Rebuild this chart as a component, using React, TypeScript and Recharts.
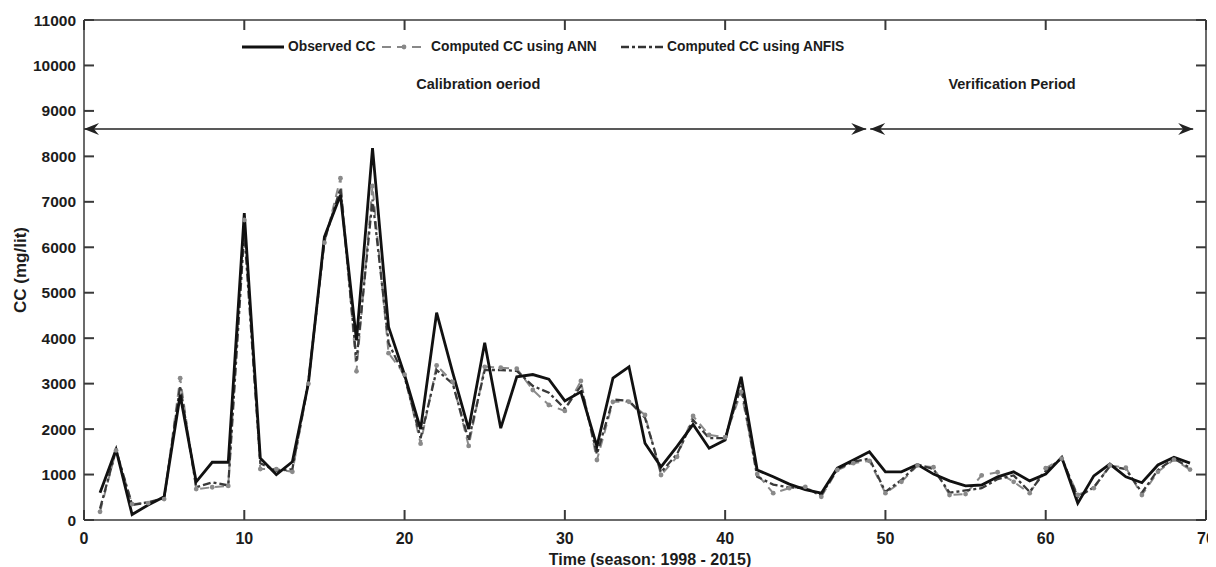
import React from 'react';
import { LineChart, Line, XAxis, YAxis, ReferenceLine, Legend } from 'recharts';

const seasons: number[] = Array.from({ length: 69 }, (_, i) => i + 1);

const observedCC: number[] = [
  600, 1550, 120, 330, 510, 2750, 840, 1270, 1270, 6750,
  1360, 1000, 1280, 3010, 6230, 7150, 3950, 8180, 4250, 3190,
  2000, 4560, 3250, 2000, 3900, 2020, 3150, 3200, 3100, 2620,
  2820, 1620, 3120, 3370, 1690, 1170, 1620, 2100, 1580, 1760,
  3150, 1100, 950, 790, 670, 590, 1140, 1320, 1500, 1060,
  1060, 1220, 1010, 860, 750, 770, 950, 1060, 860, 1010,
  1380, 370, 970, 1230, 950, 820, 1210, 1380, 1250,
];

const annCC: number[] = [
  180, 1530, 350, 370, 460, 3120, 680, 720, 750, 6600,
  1120, 1120, 1060, 3000, 6100, 7520, 3270, 7350, 3670, 3200,
  1680, 3400, 3040, 1630, 3370, 3350, 3330, 2860, 2530, 2400,
  3060, 1320, 2600, 2600, 2310, 990, 1390, 2290, 1870, 1820,
  2820, 1010, 590, 700, 730, 510, 1100, 1250, 1300, 590,
  840, 1200, 1160, 550, 570, 980, 1050, 840, 590, 1140,
  1350, 550, 700, 1200, 1150, 550, 1060, 1330, 1110,
];

const anfisCC: number[] = [
  250, 1540, 330, 390, 480, 2950, 720, 830, 760, 6350,
  1250, 1080, 1120, 3050, 6150, 7300, 3500, 7050, 3900, 3150,
  1800, 3300, 3000, 1750, 3300, 3300, 3280, 2950, 2800, 2450,
  2950, 1450, 2650, 2620, 2250, 1050, 1450, 2200, 1800, 1800,
  2950, 950, 780, 720, 700, 550, 1120, 1280, 1350, 620,
  880, 1220, 1120, 600, 650, 700, 900, 980, 620, 1080,
  1360, 500, 720, 1180, 1120, 600, 1100, 1350, 1150,
];

const xTicks: number[] = [0, 10, 20, 30, 40, 50, 60, 70];
const yTicks: number[] = [0, 1000, 2000, 3000, 4000, 5000, 6000, 7000, 8000, 9000, 10000, 11000];
const xDomain: [number, number] = [0, 70];
const yDomain: [number, number] = [0, 11000];

const periodArrowY = 8600;
const calibrationRange: [number, number] = [0, 48.8];
const calibrationLabelX = 24.6;
const verificationRange: [number, number] = [49.05, 69.2];
const verificationLabelX = 57.9;

const data = seasons.map((s, i) => ({
  season: s,
  observed: observedCC[i],
  ann: annCC[i],
  anfis: anfisCC[i],
}));

const FONT = "'Liberation Sans', Arial, sans-serif";
const TXT = '#1c1c1c';
const AX = '#3a3a3a';
const TL = 10;
const TICK_STROKE = '#3a3a3a';
const TICK_W = 2;

const BottomTick = (p: any) => (
  <text x={p.x} y={p.y + 24} textAnchor="middle" fontFamily={FONT} fontWeight="bold" fontSize={16} fill={TXT}>
    {p.payload.value}
  </text>
);
const LeftTick = (p: any) => (
  <text x={p.x - 8} y={p.y + 5.5} textAnchor="end" fontFamily={FONT} fontWeight="bold" fontSize={15.5} fill={TXT}>
    {p.payload.value}
  </text>
);

// inward tick mark, drawn from the scaled anchor point
const tickShape = (dx: number, dy: number) => (p: any) => (
  <line x1={p.x1} y1={p.y1} x2={p.x1 + dx} y2={p.y1 + dy} stroke={TICK_STROKE} strokeWidth={TICK_W} />
);

const arrowShape = (label: string, range: [number, number], labelX: number) => (p: any) => {
  const { x1, y1, x2, y2 } = p;
  const lx = x1 + ((labelX - range[0]) / (range[1] - range[0])) * (x2 - x1);
  return (
    <g>
      <line x1={x1} y1={y1} x2={x2} y2={y2} stroke="#222" strokeWidth={1.5} />
      <polygon points={`${x1},${y1} ${x1 + 15},${y1 - 6} ${x1 + 10},${y1} ${x1 + 15},${y1 + 6}`} fill="#222" />
      <polygon points={`${x2},${y2} ${x2 - 15},${y2 - 6} ${x2 - 10},${y2} ${x2 - 15},${y2 + 6}`} fill="#222" />
      <text x={lx} y={y1 - 40} textAnchor="middle" fontFamily={FONT} fontWeight="bold" fontSize={14.5} fill={TXT}>
        {label}
      </text>
    </g>
  );
};

const AnnDot = (p: any) => (
  <circle cx={p.cx} cy={p.cy} r={2.4} fill="#8a8a8a" stroke="none" />
);

const LegendContent = () => {
  const item = (w: number) => ({ display: 'inline-flex', alignItems: 'center', width: w } as React.CSSProperties);
  const txt: React.CSSProperties = { fontFamily: FONT, fontWeight: 'bold', fontSize: 13.8, color: TXT, marginLeft: 4, whiteSpace: 'nowrap' };
  return (
    <div style={{ display: 'flex', alignItems: 'center' }}>
      <div style={item(140)}>
        <svg width={42} height={10}><line x1={0} y1={5} x2={42} y2={5} stroke="#111" strokeWidth={3} /></svg>
        <span style={txt}>Observed CC</span>
      </div>
      <div style={item(239)}>
        <svg width={45} height={10}>
          <line x1={0} y1={5} x2={45} y2={5} stroke="#888" strokeWidth={2} strokeDasharray="9 6" />
          <circle cx={22} cy={5} r={2.4} fill="#888" />
        </svg>
        <span style={txt}>Computed CC using ANN</span>
      </div>
      <div style={item(230)}>
        <svg width={42} height={10}>
          <line x1={0} y1={5} x2={42} y2={5} stroke="#333" strokeWidth={2.5} strokeDasharray="8 3 3 3" />
        </svg>
        <span style={txt}>Computed CC using ANFIS</span>
      </div>
    </div>
  );
};

export default function App() {
  return (
    <LineChart
      width={1208}
      height={559}
      data={data}
      margin={{ top: 12, right: 10, left: 0, bottom: 0 }}
    >
      <XAxis
        dataKey="season"
        type="number"
        domain={xDomain}
        ticks={xTicks}
        interval={0}
        height={47}
        tickSize={0}
        tickMargin={0}
        tickLine={false}
        axisLine={{ stroke: AX, strokeWidth: 1.5 }}
        tick={<BottomTick />}
        label={{ value: 'Time (season: 1998 - 2015)', position: 'insideBottom', offset: 2, dx: 5, style: { fontFamily: FONT, fontWeight: 'bold', fontSize: 16, fill: TXT } }}
      />
      <YAxis
        type="number"
        domain={yDomain}
        ticks={yTicks}
        interval={0}
        width={76}
        tickSize={0}
        tickMargin={0}
        tickLine={false}
        axisLine={{ stroke: AX, strokeWidth: 1.5 }}
        tick={<LeftTick />}
        label={{ value: 'CC (mg/lit)', angle: -90, position: 'center', dx: -26, style: { fontFamily: FONT, fontWeight: 'bold', fontSize: 17, fill: TXT } }}
      />
      <ReferenceLine y={yDomain[1]} stroke={AX} strokeWidth={1.5} ifOverflow="visible" />
      <ReferenceLine x={xDomain[1]} stroke={AX} strokeWidth={1.5} ifOverflow="visible" />
      {xTicks.map((t) => (
        <ReferenceLine key={`b${t}`} segment={[{ x: t, y: yDomain[0] }, { x: t, y: yDomain[0] }]} ifOverflow="visible" shape={tickShape(0, -TL)} />
      ))}
      {xTicks.map((t) => (
        <ReferenceLine key={`t${t}`} segment={[{ x: t, y: yDomain[1] }, { x: t, y: yDomain[1] }]} ifOverflow="visible" shape={tickShape(0, TL)} />
      ))}
      {yTicks.map((v) => (
        <ReferenceLine key={`l${v}`} segment={[{ x: xDomain[0], y: v }, { x: xDomain[0], y: v }]} ifOverflow="visible" shape={tickShape(TL, 0)} />
      ))}
      {yTicks.map((v) => (
        <ReferenceLine key={`r${v}`} segment={[{ x: xDomain[1], y: v }, { x: xDomain[1], y: v }]} ifOverflow="visible" shape={tickShape(-TL, 0)} />
      ))}
      <Legend
        layout="horizontal"
        verticalAlign="middle"
        align="center"
        wrapperStyle={{ top: 31, left: 234, width: 'auto' }}
        content={<LegendContent />}
      />
      <ReferenceLine
        segment={[{ x: calibrationRange[0], y: periodArrowY }, { x: calibrationRange[1], y: periodArrowY }]}
        ifOverflow="visible"
        shape={arrowShape('Calibration oeriod', calibrationRange, calibrationLabelX)}
      />
      <ReferenceLine
        segment={[{ x: verificationRange[0], y: periodArrowY }, { x: verificationRange[1], y: periodArrowY }]}
        ifOverflow="visible"
        shape={arrowShape('Verification Period', verificationRange, verificationLabelX)}
      />
      <Line
        dataKey="ann"
        type="linear"
        stroke="#8a8a8a"
        strokeWidth={2}
        strokeDasharray="9 6"
        dot={<AnnDot />}
        activeDot={false}
        isAnimationActive={false}
      />
      <Line
        dataKey="anfis"
        type="linear"
        stroke="#3a3a3a"
        strokeWidth={2.3}
        strokeDasharray="8 3 3 3"
        dot={false}
        activeDot={false}
        isAnimationActive={false}
      />
      <Line
        dataKey="observed"
        type="linear"
        stroke="#111"
        strokeWidth={2.8}
        dot={false}
        activeDot={false}
        isAnimationActive={false}
      />
    </LineChart>
  );
}
